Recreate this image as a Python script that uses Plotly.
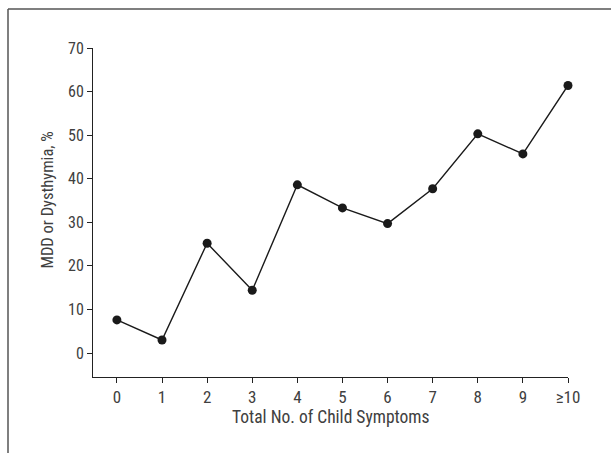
import plotly.graph_objects as go

symptoms = [0, 1, 2, 3, 4, 5, 6, 7, 8, 9, 10]
tick_labels = ["0", "1", "2", "3", "4", "5", "6", "7", "8", "9", "≥10"]
mdd_pct = [7.6, 3.0, 25.2, 14.4, 38.6, 33.3, 29.7, 37.7, 50.3, 45.7, 61.4]
y_ticks = [0, 10, 20, 30, 40, 50, 60, 70]
x_title = "Total No. of Child Symptoms"
y_title = "MDD or Dysthymia, %"

FONT = "Roboto Condensed, Liberation Sans Narrow, Arial, sans-serif"
W, H = 611, 453
L, R, T, B = 93, 43, 48, 76
PW, PH = W - L - R, H - T - B

fig = go.Figure()
fig.add_trace(go.Scatter(
    x=symptoms, y=mdd_pct, mode="lines+markers",
    line=dict(color="#1a1a1a", width=1.4),
    marker=dict(color="#1a1a1a", size=9),
    showlegend=False, cliponaxis=False,
))

fig.update_layout(
    width=W, height=H,
    margin=dict(l=L, r=R, t=T, b=B),
    paper_bgcolor="white", plot_bgcolor="white",
    font=dict(family=FONT, size=17, color="#404040"),
    xaxis=dict(
        range=[-0.53, 10], tickvals=symptoms, ticktext=tick_labels,
        tickfont=dict(size=17),
        showgrid=False, zeroline=False, showline=True, linecolor="#222222", linewidth=1,
        ticks="outside", ticklen=5, tickcolor="#222222",
    ),
    yaxis=dict(
        range=[-5.5, 70], tickvals=y_ticks,
        tickfont=dict(size=16),
        showgrid=False, zeroline=False, showline=True, linecolor="#222222", linewidth=1,
        ticks="outside", ticklen=5, tickcolor="#222222",
    ),
    annotations=[
        dict(text=x_title, xref="paper", yref="paper", x=0.5, y=(377 - 417) / PH,
             xanchor="center", yanchor="middle", showarrow=False, font=dict(size=17.5)),
        dict(text=y_title, xref="paper", yref="y", x=(48 - L) / PW, y=35,
             xanchor="center", yanchor="middle", textangle=-90, showarrow=False,
             font=dict(size=16.5)),
    ],
    shapes=[
        dict(type="line", xref="paper", yref="paper",
             x0=(8 - L) / PW, x1=1.2, y0=1 + (T - 9) / PH, y1=1 + (T - 9) / PH,
             line=dict(color="#555555", width=1.5)),
        dict(type="line", xref="paper", yref="paper",
             x0=(8 - L) / PW, x1=(8 - L) / PW, y0=1 + (T - 9) / PH, y1=-0.3,
             line=dict(color="#555555", width=1.5)),
    ],
)

fig.write_html("out.html")
